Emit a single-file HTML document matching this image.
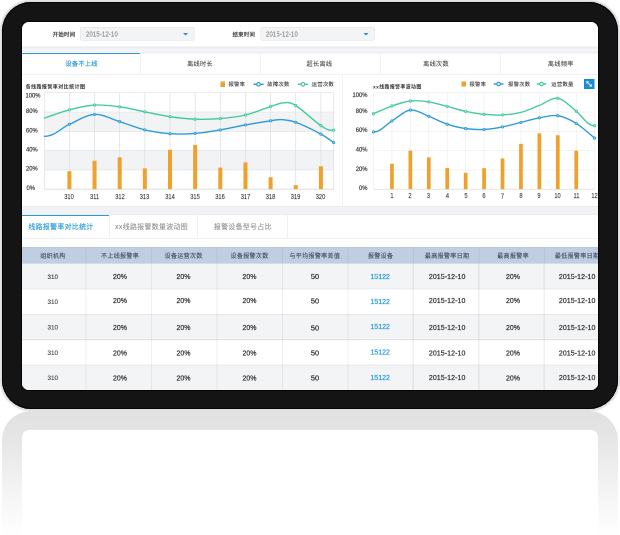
<!DOCTYPE html>
<html lang="zh-CN">
<head>
<meta charset="utf-8">
<title>线路报警率统计</title>
<style>
html,body{margin:0;padding:0;background:#fff;}
body{width:620px;height:535px;position:relative;overflow:hidden;font-family:"Liberation Sans","Noto Sans CJK SC",sans-serif;}
.device{position:absolute;left:1.6px;top:1.5px;width:616.4px;height:407.5px;border-radius:29px;background:#141414;box-shadow:inset 0 0 0 1px #050505, 0 0 0 1px #dcdee2, 0 0 1.5px 1.5px rgba(150,155,165,.35);}
.viewport{position:absolute;left:22px;top:22px;width:576px;height:368px;border-radius:7px;overflow:hidden;background:#fff;box-shadow:0 0 0 1px #050505;}
.screen{position:absolute;left:0;top:-1px;width:1152px;height:738px;transform:scale(.5);transform-origin:0 0;will-change:transform;}
.b{position:absolute;display:block;}
.t{position:absolute;display:block;white-space:nowrap;line-height:1;}
.reflect{position:absolute;left:1.6px;top:410.5px;width:616.4px;height:130px;border-radius:29px 29px 0 0;background:linear-gradient(to bottom,#e1e1e1 0,#e5e5e5 25px,#efefef 62px,#f8f8f8 95px,#fefefe 120px);}
.reflect-in{position:absolute;left:22px;top:430px;width:576px;height:110px;border-radius:7px 7px 0 0;background:#fff;}
</style>
</head>
<body>
<div class="device"></div>
<div class="viewport"><div class="screen">
<div class="b" style="left:0.0px;top:0.0px;width:1152.0px;height:51.2px;background:#fff;"></div>
<label class="t" style="left:106.92px;top:26.82px;font-size:10.83px;color:#2e2e2e;transform:translate(-100%,-50%);-webkit-text-stroke:0.3px currentColor;letter-spacing:0.57px;">开始时间</label>
<label class="t" style="left:466.52px;top:26.78px;font-size:10.83px;color:#2e2e2e;transform:translate(-100%,-50%);-webkit-text-stroke:0.3px currentColor;letter-spacing:0.57px;">结束时间</label>
<div class="b" style="left:116.4px;top:12.0px;width:228.4px;height:27.0px;background:#f3f4f6;border:1.2px solid #dcdee2;border-radius:4px;box-sizing:border-box;"></div>
<span class="t" style="left:127.54px;top:26.0px;font-size:14.0px;color:#888;transform:translate(0,-50%) scaleX(0.84);-webkit-text-stroke:0.3px currentColor;transform-origin:0 50%;letter-spacing:0.45px;">2015-12-10</span>
<i class="b" style="left:322.0px;top:23.8px;width:0;height:0;border-left:5.2px solid transparent;border-right:5.2px solid transparent;border-top:5.4px solid #1e8fd6;"></i>
<div class="b" style="left:476.6px;top:12.0px;width:229.2px;height:27.0px;background:#f3f4f6;border:1.2px solid #dcdee2;border-radius:4px;box-sizing:border-box;"></div>
<span class="t" style="left:487.94px;top:26.0px;font-size:14.0px;color:#888;transform:translate(0,-50%) scaleX(0.84);-webkit-text-stroke:0.3px currentColor;transform-origin:0 50%;letter-spacing:0.45px;">2015-12-10</span>
<i class="b" style="left:683.0px;top:23.8px;width:0;height:0;border-left:5.2px solid transparent;border-right:5.2px solid transparent;border-top:5.4px solid #1e8fd6;"></i>
<div class="b" style="left:0.0px;top:51.0px;width:1152.0px;height:13.0px;background:#f1f2f5;border-top:2px solid #e7e8ea;box-sizing:border-box;"></div>
<div class="b" style="left:0.0px;top:57.4px;width:1152.0px;height:1.6px;background:rgba(255,255,255,.55);"></div>
<div class="b" style="left:0.0px;top:63.8px;width:1152.0px;height:43.4px;background:#fff;border-top:1px solid #e6e6e8;border-bottom:1.6px solid #e3e3e4;box-sizing:border-box;"></div>
<div class="b" style="left:0.0px;top:61.8px;width:236.6px;height:4.3px;background:#2b9ad6;border-top:2.1px solid #fff;box-sizing:border-box;"></div>
<div class="b" style="left:235.9px;top:64.4px;width:1.4px;height:42.4px;background:#e3e3e4;"></div>
<div class="b" style="left:475.9px;top:64.4px;width:1.4px;height:42.4px;background:#e3e3e4;"></div>
<div class="b" style="left:715.9px;top:64.4px;width:1.4px;height:42.4px;background:#e3e3e4;"></div>
<div class="b" style="left:955.9px;top:64.4px;width:1.4px;height:42.4px;background:#e3e3e4;"></div>
<span class="t" style="left:119.22px;top:86.42px;font-size:12.25px;color:#2b9ad6;transform:translate(-50%,-50%);-webkit-text-stroke:0.35px currentColor;letter-spacing:0.65px;">设备不上线</span>
<span class="t" style="left:355.94px;top:86.48px;font-size:12.25px;color:#3a3a3a;transform:translate(-50%,-50%);-webkit-text-stroke:0.12px currentColor;letter-spacing:0.65px;">离线时长</span>
<span class="t" style="left:594.9px;top:86.42px;font-size:12.25px;color:#3a3a3a;transform:translate(-50%,-50%);-webkit-text-stroke:0.12px currentColor;letter-spacing:0.65px;">超长离线</span>
<span class="t" style="left:828.14px;top:86.46px;font-size:12.25px;color:#3a3a3a;transform:translate(-50%,-50%);-webkit-text-stroke:0.12px currentColor;letter-spacing:0.65px;">离线次数</span>
<span class="t" style="left:1077.66px;top:86.46px;font-size:12.25px;color:#3a3a3a;transform:translate(-50%,-50%);-webkit-text-stroke:0.12px currentColor;letter-spacing:0.65px;">离线频率</span>
<div class="b" style="left:0.0px;top:107.2px;width:1152.0px;height:262.6px;background:#fff;"></div>
<div class="b" style="left:640.9px;top:107.2px;width:1.4px;height:262.6px;background:#e6e6e7;"></div>
<span class="t" style="left:7.16px;top:132.3px;font-size:10.03px;color:#2e2e2e;transform:translate(0,-50%);letter-spacing:0.87px;font-weight:700;">各线路报警率对比统计图</span>
<span class="t" style="left:701.9px;top:131.56px;font-size:9.75px;color:#2e2e2e;transform:translate(0,-50%);letter-spacing:0.85px;font-weight:700;">xx线路报警率波动图</span>
<div class="b" style="left:396.8px;top:121.2px;width:9.6px;height:10.8px;background:#f0a02c;"></div>
<span class="t" style="left:412.92px;top:126.46px;font-size:10.64px;color:#333;transform:translate(0,-50%);-webkit-text-stroke:0.2px currentColor;letter-spacing:0.56px;">报警率</span>
<span class="t" style="left:490.54px;top:125.96px;font-size:10.64px;color:#333;transform:translate(0,-50%);-webkit-text-stroke:0.2px currentColor;letter-spacing:0.56px;">故障次数</span>
<span class="t" style="left:579.54px;top:125.98px;font-size:10.64px;color:#333;transform:translate(0,-50%);-webkit-text-stroke:0.2px currentColor;letter-spacing:0.56px;">运营次数</span>
<div class="b" style="left:878.6px;top:120.6px;width:9.6px;height:10.8px;background:#f0a02c;"></div>
<span class="t" style="left:894.92px;top:126.02px;font-size:10.64px;color:#333;transform:translate(0,-50%);-webkit-text-stroke:0.2px currentColor;letter-spacing:0.56px;">报警率</span>
<span class="t" style="left:972.04px;top:125.96px;font-size:10.64px;color:#333;transform:translate(0,-50%);-webkit-text-stroke:0.2px currentColor;letter-spacing:0.56px;">报警次数</span>
<span class="t" style="left:1058.54px;top:125.52px;font-size:10.64px;color:#333;transform:translate(0,-50%);-webkit-text-stroke:0.2px currentColor;letter-spacing:0.56px;">运营数量</span>
<div class="b" style="left:1124.4px;top:116.1px;width:20.3px;height:19.7px;background:#1a8fd4;border:1px solid #1385c8;box-sizing:border-box;"><svg width="100%" height="100%" viewBox="0 0 10 10" style="position:absolute;left:0;top:0"><path d="M1.8 1.8 L5.0 2.2 L2.2 5.0 Z M8.2 8.2 L5.0 7.8 L7.8 5.0 Z" fill="#fff"/><path d="M3.2 3.2 L6.8 6.8" stroke="#fff" stroke-width="1.0"/></svg></div>
<svg class="b" style="left:0;top:0;width:1152.0px;height:738.0px" viewBox="22.0 21.0 576.0 369.0"><rect x="44.5" y="112.00" width="289.10" height="19.30" fill="#f2f3f5"/><rect x="44.5" y="150.60" width="289.10" height="19.30" fill="#f2f3f5"/><line x1="44.5" y1="92.70" x2="333.6" y2="92.70" stroke="#dedfe1" stroke-width="0.6"/><line x1="44.5" y1="112.00" x2="333.6" y2="112.00" stroke="#dedfe1" stroke-width="0.6"/><line x1="44.5" y1="131.30" x2="333.6" y2="131.30" stroke="#dedfe1" stroke-width="0.6"/><line x1="44.5" y1="150.60" x2="333.6" y2="150.60" stroke="#dedfe1" stroke-width="0.6"/><line x1="44.5" y1="169.90" x2="333.6" y2="169.90" stroke="#dedfe1" stroke-width="0.6"/><line x1="44.5" y1="189.20" x2="333.6" y2="189.20" stroke="#dedfe1" stroke-width="0.6"/><line x1="44.50" y1="92.7" x2="44.50" y2="189.2" stroke="#d9dadc" stroke-width="0.6"/><line x1="69.40" y1="92.7" x2="69.40" y2="189.2" stroke="#d9dadc" stroke-width="0.6"/><line x1="94.55" y1="92.7" x2="94.55" y2="189.2" stroke="#d9dadc" stroke-width="0.6"/><line x1="119.70" y1="92.7" x2="119.70" y2="189.2" stroke="#d9dadc" stroke-width="0.6"/><line x1="144.85" y1="92.7" x2="144.85" y2="189.2" stroke="#d9dadc" stroke-width="0.6"/><line x1="170.00" y1="92.7" x2="170.00" y2="189.2" stroke="#d9dadc" stroke-width="0.6"/><line x1="195.15" y1="92.7" x2="195.15" y2="189.2" stroke="#d9dadc" stroke-width="0.6"/><line x1="220.30" y1="92.7" x2="220.30" y2="189.2" stroke="#d9dadc" stroke-width="0.6"/><line x1="245.45" y1="92.7" x2="245.45" y2="189.2" stroke="#d9dadc" stroke-width="0.6"/><line x1="270.60" y1="92.7" x2="270.60" y2="189.2" stroke="#d9dadc" stroke-width="0.6"/><line x1="295.75" y1="92.7" x2="295.75" y2="189.2" stroke="#d9dadc" stroke-width="0.6"/><line x1="320.90" y1="92.7" x2="320.90" y2="189.2" stroke="#d9dadc" stroke-width="0.6"/><line x1="333.60" y1="92.7" x2="333.60" y2="189.2" stroke="#d9dadc" stroke-width="0.6"/><line x1="44.5" y1="189.2" x2="333.6" y2="189.2" stroke="#cfcfd1" stroke-width="0.7"/><rect x="67.40" y="171.15" width="4.0" height="18.05" fill="#f0a02c"/><rect x="92.55" y="160.73" width="4.0" height="28.47" fill="#f0a02c"/><rect x="117.70" y="157.35" width="4.0" height="31.84" fill="#f0a02c"/><rect x="142.85" y="168.36" width="4.0" height="20.84" fill="#f0a02c"/><rect x="168.00" y="149.83" width="4.0" height="39.37" fill="#f0a02c"/><rect x="193.15" y="145.00" width="4.0" height="44.20" fill="#f0a02c"/><rect x="218.30" y="167.58" width="4.0" height="21.62" fill="#f0a02c"/><rect x="243.45" y="162.37" width="4.0" height="26.83" fill="#f0a02c"/><rect x="268.60" y="177.23" width="4.0" height="11.97" fill="#f0a02c"/><rect x="293.75" y="185.15" width="4.0" height="4.05" fill="#f0a02c"/><rect x="318.90" y="166.23" width="4.0" height="22.97" fill="#f0a02c"/><path d="M44.50 118.10 C48.65 116.72 61.07 111.97 69.40 109.80 C77.73 107.63 86.13 105.60 94.50 105.10 C102.87 104.60 111.22 105.68 119.60 106.80 C127.98 107.92 136.40 110.15 144.80 111.80 C153.20 113.45 161.62 115.47 170.00 116.70 C178.38 117.93 186.72 118.88 195.10 119.20 C203.48 119.52 211.90 119.30 220.30 118.60 C228.70 117.90 237.12 117.02 245.50 115.00 C253.88 112.98 264.25 108.53 270.60 106.50 C276.95 104.47 279.42 102.97 283.60 102.80 C287.78 102.63 289.48 101.70 295.70 105.50 C301.92 109.30 314.58 121.48 320.90 125.60 C327.22 129.72 327.88 130.20 333.60 130.20" fill="none" stroke="#3fcb9b" stroke-width="1.35" stroke-linecap="round"/><circle cx="69.4" cy="109.8" r="1.15" fill="#fff" fill-opacity="0.55" stroke="#3fcb9b" stroke-width="0.85"/><circle cx="94.5" cy="105.1" r="1.15" fill="#fff" fill-opacity="0.55" stroke="#3fcb9b" stroke-width="0.85"/><circle cx="119.6" cy="106.8" r="1.15" fill="#fff" fill-opacity="0.55" stroke="#3fcb9b" stroke-width="0.85"/><circle cx="144.8" cy="111.8" r="1.15" fill="#fff" fill-opacity="0.55" stroke="#3fcb9b" stroke-width="0.85"/><circle cx="170" cy="116.7" r="1.15" fill="#fff" fill-opacity="0.55" stroke="#3fcb9b" stroke-width="0.85"/><circle cx="195.1" cy="119.2" r="1.15" fill="#fff" fill-opacity="0.55" stroke="#3fcb9b" stroke-width="0.85"/><circle cx="220.3" cy="118.6" r="1.15" fill="#fff" fill-opacity="0.55" stroke="#3fcb9b" stroke-width="0.85"/><circle cx="245.5" cy="115.0" r="1.15" fill="#fff" fill-opacity="0.55" stroke="#3fcb9b" stroke-width="0.85"/><circle cx="270.6" cy="106.5" r="1.15" fill="#fff" fill-opacity="0.55" stroke="#3fcb9b" stroke-width="0.85"/><circle cx="295.7" cy="105.5" r="1.15" fill="#fff" fill-opacity="0.55" stroke="#3fcb9b" stroke-width="0.85"/><circle cx="320.9" cy="125.6" r="1.15" fill="#fff" fill-opacity="0.55" stroke="#3fcb9b" stroke-width="0.85"/><circle cx="333.6" cy="130.2" r="1.15" fill="#fff" fill-opacity="0.55" stroke="#3fcb9b" stroke-width="0.85"/><path d="M44.50 136.30 C54.96 136.30 61.07 127.95 69.40 124.30 C77.73 120.65 86.13 114.85 94.50 114.40 C102.87 113.95 111.22 119.02 119.60 121.60 C127.98 124.18 136.40 127.88 144.80 129.90 C153.20 131.92 161.62 133.12 170.00 133.70 C178.38 134.28 186.72 134.03 195.10 133.40 C203.48 132.77 211.90 131.32 220.30 129.90 C228.70 128.48 237.12 126.42 245.50 124.90 C253.88 123.38 264.60 121.68 270.60 120.80 C276.60 119.92 277.32 119.35 281.50 119.60 C285.68 119.85 289.13 119.88 295.70 122.30 C302.27 124.72 314.58 130.73 320.90 134.10 C327.22 137.47 331.48 141.10 333.60 142.50" fill="none" stroke="#2b9ad6" stroke-width="1.35" stroke-linecap="round"/><circle cx="69.4" cy="124.3" r="1.15" fill="#fff" fill-opacity="0.55" stroke="#2b9ad6" stroke-width="0.85"/><circle cx="94.5" cy="114.4" r="1.15" fill="#fff" fill-opacity="0.55" stroke="#2b9ad6" stroke-width="0.85"/><circle cx="119.6" cy="121.6" r="1.15" fill="#fff" fill-opacity="0.55" stroke="#2b9ad6" stroke-width="0.85"/><circle cx="144.8" cy="129.9" r="1.15" fill="#fff" fill-opacity="0.55" stroke="#2b9ad6" stroke-width="0.85"/><circle cx="170" cy="133.7" r="1.15" fill="#fff" fill-opacity="0.55" stroke="#2b9ad6" stroke-width="0.85"/><circle cx="195.1" cy="133.4" r="1.15" fill="#fff" fill-opacity="0.55" stroke="#2b9ad6" stroke-width="0.85"/><circle cx="220.3" cy="129.9" r="1.15" fill="#fff" fill-opacity="0.55" stroke="#2b9ad6" stroke-width="0.85"/><circle cx="245.5" cy="124.9" r="1.15" fill="#fff" fill-opacity="0.55" stroke="#2b9ad6" stroke-width="0.85"/><circle cx="270.6" cy="120.8" r="1.15" fill="#fff" fill-opacity="0.55" stroke="#2b9ad6" stroke-width="0.85"/><circle cx="295.7" cy="122.3" r="1.15" fill="#fff" fill-opacity="0.55" stroke="#2b9ad6" stroke-width="0.85"/><circle cx="320.9" cy="134.1" r="1.15" fill="#fff" fill-opacity="0.55" stroke="#2b9ad6" stroke-width="0.85"/><circle cx="333.6" cy="142.5" r="1.15" fill="#fff" fill-opacity="0.55" stroke="#2b9ad6" stroke-width="0.85"/><line x1="373.5" y1="92.80" x2="594.7" y2="92.80" stroke="#ececee" stroke-width="0.6"/><line x1="373.5" y1="112.08" x2="594.7" y2="112.08" stroke="#ececee" stroke-width="0.6"/><line x1="373.5" y1="131.36" x2="594.7" y2="131.36" stroke="#ececee" stroke-width="0.6"/><line x1="373.5" y1="150.64" x2="594.7" y2="150.64" stroke="#ececee" stroke-width="0.6"/><line x1="373.5" y1="169.92" x2="594.7" y2="169.92" stroke="#ececee" stroke-width="0.6"/><line x1="373.50" y1="92.8" x2="373.50" y2="189.2" stroke="#ececee" stroke-width="0.6"/><line x1="391.93" y1="92.8" x2="391.93" y2="189.2" stroke="#ececee" stroke-width="0.6"/><line x1="410.36" y1="92.8" x2="410.36" y2="189.2" stroke="#ececee" stroke-width="0.6"/><line x1="428.79" y1="92.8" x2="428.79" y2="189.2" stroke="#ececee" stroke-width="0.6"/><line x1="447.22" y1="92.8" x2="447.22" y2="189.2" stroke="#ececee" stroke-width="0.6"/><line x1="465.65" y1="92.8" x2="465.65" y2="189.2" stroke="#ececee" stroke-width="0.6"/><line x1="484.08" y1="92.8" x2="484.08" y2="189.2" stroke="#ececee" stroke-width="0.6"/><line x1="502.51" y1="92.8" x2="502.51" y2="189.2" stroke="#ececee" stroke-width="0.6"/><line x1="520.94" y1="92.8" x2="520.94" y2="189.2" stroke="#ececee" stroke-width="0.6"/><line x1="539.37" y1="92.8" x2="539.37" y2="189.2" stroke="#ececee" stroke-width="0.6"/><line x1="557.80" y1="92.8" x2="557.80" y2="189.2" stroke="#ececee" stroke-width="0.6"/><line x1="576.23" y1="92.8" x2="576.23" y2="189.2" stroke="#ececee" stroke-width="0.6"/><line x1="594.66" y1="92.8" x2="594.66" y2="189.2" stroke="#ececee" stroke-width="0.6"/><line x1="373.5" y1="189.2" x2="594.7" y2="189.2" stroke="#d4d4d6" stroke-width="0.7"/><rect x="390.08" y="163.75" width="3.7" height="25.45" fill="#f0a02c"/><rect x="408.51" y="150.64" width="3.7" height="38.56" fill="#f0a02c"/><rect x="426.94" y="157.39" width="3.7" height="31.81" fill="#f0a02c"/><rect x="445.37" y="167.99" width="3.7" height="21.21" fill="#f0a02c"/><rect x="463.80" y="172.81" width="3.7" height="16.39" fill="#f0a02c"/><rect x="482.23" y="168.18" width="3.7" height="21.02" fill="#f0a02c"/><rect x="500.66" y="158.45" width="3.7" height="30.75" fill="#f0a02c"/><rect x="519.09" y="143.89" width="3.7" height="45.31" fill="#f0a02c"/><rect x="537.52" y="133.29" width="3.7" height="55.91" fill="#f0a02c"/><rect x="555.95" y="135.22" width="3.7" height="53.98" fill="#f0a02c"/><rect x="574.38" y="150.64" width="3.7" height="38.56" fill="#f0a02c"/><path d="M373.50 113.70 C376.57 112.42 385.79 108.12 391.93 106.00 C398.07 103.88 404.22 101.68 410.36 101.00 C416.50 100.32 422.65 101.00 428.79 101.90 C434.93 102.80 441.08 104.82 447.22 106.40 C453.36 107.98 459.51 110.08 465.65 111.40 C471.79 112.72 477.94 113.72 484.08 114.30 C490.22 114.88 496.37 115.22 502.51 114.90 C508.65 114.58 514.80 113.98 520.94 112.40 C527.08 110.82 533.23 107.75 539.37 105.40 C545.51 103.05 551.66 97.33 557.80 98.30 C563.94 99.27 570.09 106.63 576.23 111.20 C582.37 115.77 586.37 125.70 594.66 125.70" fill="none" stroke="#3fcb9b" stroke-width="1.35" stroke-linecap="round"/><circle cx="373.5" cy="113.7" r="1.15" fill="#fff" fill-opacity="0.55" stroke="#3fcb9b" stroke-width="0.85"/><circle cx="391.93" cy="106.0" r="1.15" fill="#fff" fill-opacity="0.55" stroke="#3fcb9b" stroke-width="0.85"/><circle cx="410.36" cy="101.0" r="1.15" fill="#fff" fill-opacity="0.55" stroke="#3fcb9b" stroke-width="0.85"/><circle cx="428.79" cy="101.9" r="1.15" fill="#fff" fill-opacity="0.55" stroke="#3fcb9b" stroke-width="0.85"/><circle cx="447.22" cy="106.4" r="1.15" fill="#fff" fill-opacity="0.55" stroke="#3fcb9b" stroke-width="0.85"/><circle cx="465.65" cy="111.4" r="1.15" fill="#fff" fill-opacity="0.55" stroke="#3fcb9b" stroke-width="0.85"/><circle cx="484.08" cy="114.3" r="1.15" fill="#fff" fill-opacity="0.55" stroke="#3fcb9b" stroke-width="0.85"/><circle cx="502.51" cy="114.9" r="1.15" fill="#fff" fill-opacity="0.55" stroke="#3fcb9b" stroke-width="0.85"/><circle cx="557.8" cy="98.3" r="1.15" fill="#fff" fill-opacity="0.55" stroke="#3fcb9b" stroke-width="0.85"/><circle cx="576.23" cy="111.2" r="1.15" fill="#fff" fill-opacity="0.55" stroke="#3fcb9b" stroke-width="0.85"/><circle cx="594.66" cy="125.7" r="1.15" fill="#fff" fill-opacity="0.55" stroke="#3fcb9b" stroke-width="0.85"/><path d="M373.50 131.90 C381.24 131.90 385.79 124.53 391.93 120.90 C398.07 117.27 404.22 110.87 410.36 110.10 C416.50 109.33 422.65 113.95 428.79 116.30 C434.93 118.65 441.08 122.15 447.22 124.20 C453.36 126.25 459.51 127.73 465.65 128.60 C471.79 129.47 477.94 129.68 484.08 129.40 C490.22 129.12 496.37 128.07 502.51 126.90 C508.65 125.73 514.80 123.92 520.94 122.40 C527.08 120.88 533.23 118.92 539.37 117.80 C545.51 116.68 551.66 114.77 557.80 115.70 C563.94 116.63 570.09 119.67 576.23 123.40 C582.37 127.13 591.59 135.65 594.66 138.10" fill="none" stroke="#2b9ad6" stroke-width="1.35" stroke-linecap="round"/><circle cx="373.5" cy="131.9" r="1.15" fill="#fff" fill-opacity="0.55" stroke="#2b9ad6" stroke-width="0.85"/><circle cx="391.93" cy="120.9" r="1.15" fill="#fff" fill-opacity="0.55" stroke="#2b9ad6" stroke-width="0.85"/><circle cx="410.36" cy="110.1" r="1.15" fill="#fff" fill-opacity="0.55" stroke="#2b9ad6" stroke-width="0.85"/><circle cx="428.79" cy="116.3" r="1.15" fill="#fff" fill-opacity="0.55" stroke="#2b9ad6" stroke-width="0.85"/><circle cx="447.22" cy="124.2" r="1.15" fill="#fff" fill-opacity="0.55" stroke="#2b9ad6" stroke-width="0.85"/><circle cx="465.65" cy="128.6" r="1.15" fill="#fff" fill-opacity="0.55" stroke="#2b9ad6" stroke-width="0.85"/><circle cx="484.08" cy="129.4" r="1.15" fill="#fff" fill-opacity="0.55" stroke="#2b9ad6" stroke-width="0.85"/><circle cx="502.51" cy="126.9" r="1.15" fill="#fff" fill-opacity="0.55" stroke="#2b9ad6" stroke-width="0.85"/><circle cx="520.94" cy="122.4" r="1.15" fill="#fff" fill-opacity="0.55" stroke="#2b9ad6" stroke-width="0.85"/><circle cx="539.37" cy="117.8" r="1.15" fill="#fff" fill-opacity="0.55" stroke="#2b9ad6" stroke-width="0.85"/><circle cx="557.8" cy="115.7" r="1.15" fill="#fff" fill-opacity="0.55" stroke="#2b9ad6" stroke-width="0.85"/><circle cx="576.23" cy="123.4" r="1.15" fill="#fff" fill-opacity="0.55" stroke="#2b9ad6" stroke-width="0.85"/><circle cx="594.66" cy="138.1" r="1.15" fill="#fff" fill-opacity="0.55" stroke="#2b9ad6" stroke-width="0.85"/><line x1="253.5" y1="84.3" x2="263.6" y2="84.3" stroke="#2b9ad6" stroke-width="1.45"/><circle cx="258.55" cy="84.3" r="1.75" fill="#fff" stroke="#2b9ad6" stroke-width="1.15"/><line x1="297.9" y1="84.3" x2="308.0" y2="84.3" stroke="#3fcb9b" stroke-width="1.45"/><circle cx="302.95" cy="84.3" r="1.75" fill="#fff" stroke="#3fcb9b" stroke-width="1.15"/><line x1="493.7" y1="84.0" x2="503.5" y2="84.0" stroke="#2b9ad6" stroke-width="1.45"/><circle cx="498.60" cy="84.0" r="1.75" fill="#fff" stroke="#2b9ad6" stroke-width="1.15"/><line x1="536.8" y1="84.0" x2="546.3" y2="84.0" stroke="#3fcb9b" stroke-width="1.45"/><circle cx="541.55" cy="84.0" r="1.75" fill="#fff" stroke="#3fcb9b" stroke-width="1.15"/></svg>
<span class="t" style="left:7.18px;top:148.84px;font-size:12.2px;color:#333;transform:translate(0,-50%) scaleX(0.96);-webkit-text-stroke:0.35px currentColor;transform-origin:0 50%;">100%</span>
<span class="t" style="left:8.14px;top:180.18px;font-size:12.2px;color:#333;transform:translate(0,-50%) scaleX(0.96);-webkit-text-stroke:0.35px currentColor;transform-origin:0 50%;">80%</span>
<span class="t" style="left:8.12px;top:218.98px;font-size:12.2px;color:#333;transform:translate(0,-50%) scaleX(0.96);-webkit-text-stroke:0.35px currentColor;transform-origin:0 50%;">60%</span>
<span class="t" style="left:7.9px;top:257.04px;font-size:12.2px;color:#333;transform:translate(0,-50%) scaleX(0.96);-webkit-text-stroke:0.35px currentColor;transform-origin:0 50%;">40%</span>
<span class="t" style="left:7.94px;top:295.18px;font-size:12.2px;color:#333;transform:translate(0,-50%) scaleX(0.96);-webkit-text-stroke:0.35px currentColor;transform-origin:0 50%;">20%</span>
<span class="t" style="left:8.52px;top:333.82px;font-size:12.2px;color:#333;transform:translate(0,-50%) scaleX(0.96);-webkit-text-stroke:0.35px currentColor;transform-origin:0 50%;">0%</span>
<span class="t" style="left:690.7px;top:148.44px;font-size:12.2px;color:#333;transform:translate(-100%,-50%) scaleX(0.96);-webkit-text-stroke:0.35px currentColor;transform-origin:100% 50%;">100%</span>
<span class="t" style="left:690.7px;top:180.24px;font-size:12.2px;color:#333;transform:translate(-100%,-50%) scaleX(0.96);-webkit-text-stroke:0.35px currentColor;transform-origin:100% 50%;">80%</span>
<span class="t" style="left:690.66px;top:217.78px;font-size:12.2px;color:#333;transform:translate(-100%,-50%) scaleX(0.96);-webkit-text-stroke:0.35px currentColor;transform-origin:100% 50%;">60%</span>
<span class="t" style="left:690.6px;top:257.44px;font-size:12.2px;color:#333;transform:translate(-100%,-50%) scaleX(0.96);-webkit-text-stroke:0.35px currentColor;transform-origin:100% 50%;">40%</span>
<span class="t" style="left:690.64px;top:295.84px;font-size:12.2px;color:#333;transform:translate(-100%,-50%) scaleX(0.96);-webkit-text-stroke:0.35px currentColor;transform-origin:100% 50%;">20%</span>
<span class="t" style="left:690.6px;top:334.28px;font-size:12.2px;color:#333;transform:translate(-100%,-50%) scaleX(0.96);-webkit-text-stroke:0.35px currentColor;transform-origin:100% 50%;">0%</span>
<span class="t" style="left:94.24px;top:350.82px;font-size:14.6px;color:#3a3a3a;transform:translate(-50%,-50%) scaleX(0.78);-webkit-text-stroke:0.25px currentColor;transform-origin:50% 50%;">310</span>
<span class="t" style="left:145.48px;top:350.7px;font-size:14.6px;color:#3a3a3a;transform:translate(-50%,-50%) scaleX(0.78);-webkit-text-stroke:0.25px currentColor;transform-origin:50% 50%;">311</span>
<span class="t" style="left:195.58px;top:350.8px;font-size:14.6px;color:#3a3a3a;transform:translate(-50%,-50%) scaleX(0.78);-webkit-text-stroke:0.25px currentColor;transform-origin:50% 50%;">312</span>
<span class="t" style="left:245.06px;top:350.86px;font-size:14.6px;color:#3a3a3a;transform:translate(-50%,-50%) scaleX(0.78);-webkit-text-stroke:0.25px currentColor;transform-origin:50% 50%;">313</span>
<span class="t" style="left:295.9px;top:350.76px;font-size:14.6px;color:#3a3a3a;transform:translate(-50%,-50%) scaleX(0.78);-webkit-text-stroke:0.25px currentColor;transform-origin:50% 50%;">314</span>
<span class="t" style="left:346.36px;top:350.94px;font-size:14.6px;color:#3a3a3a;transform:translate(-50%,-50%) scaleX(0.78);-webkit-text-stroke:0.25px currentColor;transform-origin:50% 50%;">315</span>
<span class="t" style="left:396.02px;top:350.8px;font-size:14.6px;color:#3a3a3a;transform:translate(-50%,-50%) scaleX(0.78);-webkit-text-stroke:0.25px currentColor;transform-origin:50% 50%;">316</span>
<span class="t" style="left:446.92px;top:351.16px;font-size:14.6px;color:#3a3a3a;transform:translate(-50%,-50%) scaleX(0.78);-webkit-text-stroke:0.25px currentColor;transform-origin:50% 50%;">317</span>
<span class="t" style="left:497.22px;top:350.82px;font-size:14.6px;color:#3a3a3a;transform:translate(-50%,-50%) scaleX(0.78);-webkit-text-stroke:0.25px currentColor;transform-origin:50% 50%;">318</span>
<span class="t" style="left:546.68px;top:350.82px;font-size:14.6px;color:#3a3a3a;transform:translate(-50%,-50%) scaleX(0.78);-webkit-text-stroke:0.25px currentColor;transform-origin:50% 50%;">319</span>
<span class="t" style="left:597.2px;top:350.94px;font-size:14.6px;color:#3a3a3a;transform:translate(-50%,-50%) scaleX(0.78);-webkit-text-stroke:0.25px currentColor;transform-origin:50% 50%;">320</span>
<span class="t" style="left:739.74px;top:348.5px;font-size:14.6px;color:#3a3a3a;transform:translate(-50%,-50%) scaleX(0.78);-webkit-text-stroke:0.25px currentColor;transform-origin:50% 50%;">1</span>
<span class="t" style="left:776.44px;top:348.72px;font-size:14.6px;color:#3a3a3a;transform:translate(-50%,-50%) scaleX(0.78);-webkit-text-stroke:0.25px currentColor;transform-origin:50% 50%;">2</span>
<span class="t" style="left:813.12px;top:349.0px;font-size:14.6px;color:#3a3a3a;transform:translate(-50%,-50%) scaleX(0.78);-webkit-text-stroke:0.25px currentColor;transform-origin:50% 50%;">3</span>
<span class="t" style="left:851.02px;top:349.0px;font-size:14.6px;color:#3a3a3a;transform:translate(-50%,-50%) scaleX(0.78);-webkit-text-stroke:0.25px currentColor;transform-origin:50% 50%;">4</span>
<span class="t" style="left:887.6px;top:349.0px;font-size:14.6px;color:#3a3a3a;transform:translate(-50%,-50%) scaleX(0.78);-webkit-text-stroke:0.25px currentColor;transform-origin:50% 50%;">5</span>
<span class="t" style="left:924.44px;top:349.0px;font-size:14.6px;color:#3a3a3a;transform:translate(-50%,-50%) scaleX(0.78);-webkit-text-stroke:0.25px currentColor;transform-origin:50% 50%;">6</span>
<span class="t" style="left:960.9px;top:349.7px;font-size:14.6px;color:#3a3a3a;transform:translate(-50%,-50%) scaleX(0.78);-webkit-text-stroke:0.25px currentColor;transform-origin:50% 50%;">7</span>
<span class="t" style="left:997.86px;top:349.0px;font-size:14.6px;color:#3a3a3a;transform:translate(-50%,-50%) scaleX(0.78);-webkit-text-stroke:0.25px currentColor;transform-origin:50% 50%;">8</span>
<span class="t" style="left:1034.48px;top:349.0px;font-size:14.6px;color:#3a3a3a;transform:translate(-50%,-50%) scaleX(0.78);-webkit-text-stroke:0.25px currentColor;transform-origin:50% 50%;">9</span>
<span class="t" style="left:1070.58px;top:348.82px;font-size:14.6px;color:#3a3a3a;transform:translate(-50%,-50%) scaleX(0.78);-webkit-text-stroke:0.25px currentColor;transform-origin:50% 50%;">10</span>
<span class="t" style="left:1109.0px;top:348.5px;font-size:14.6px;color:#3a3a3a;transform:translate(-50%,-50%) scaleX(0.78);-webkit-text-stroke:0.25px currentColor;transform-origin:50% 50%;">11</span>
<span class="t" style="left:1145.42px;top:348.62px;font-size:14.6px;color:#3a3a3a;transform:translate(-50%,-50%) scaleX(0.78);-webkit-text-stroke:0.25px currentColor;transform-origin:50% 50%;">12</span>
<div class="b" style="left:0.0px;top:369.8px;width:1152.0px;height:17.4px;background:#f1f2f5;border-top:1.4px solid #e6e7e9;box-sizing:border-box;"></div>
<div class="b" style="left:0.0px;top:386.8px;width:1152.0px;height:48.0px;background:#fff;border-top:1.2px solid #e6e6e7;border-bottom:1.4px solid #e3e3e4;box-sizing:border-box;"></div>
<div class="b" style="left:0.0px;top:387.8px;width:174.2px;height:2.4px;background:#2b9ad6;"></div>
<div class="b" style="left:173.5px;top:388.0px;width:1.4px;height:46.4px;background:#e3e3e4;"></div>
<div class="b" style="left:350.9px;top:388.0px;width:1.4px;height:46.4px;background:#e3e3e4;"></div>
<div class="b" style="left:529.5px;top:388.0px;width:1.4px;height:46.4px;background:#e3e3e4;"></div>
<span class="t" style="left:12.66px;top:411.86px;font-size:13.77px;color:#2b9ad6;transform:translate(0,-50%);-webkit-text-stroke:0.3px currentColor;letter-spacing:0.73px;">线路报警率对比统计</span>
<span class="t" style="left:186.22px;top:411.78px;font-size:13.77px;color:#8e8e8e;transform:translate(0,-50%);-webkit-text-stroke:0.2px currentColor;letter-spacing:0.73px;">xx线路报警数量波动图</span>
<span class="t" style="left:383.8px;top:411.8px;font-size:13.77px;color:#8e8e8e;transform:translate(0,-50%);-webkit-text-stroke:0.2px currentColor;letter-spacing:0.73px;">报警设备型号占比</span>
<div class="b" style="left:0.0px;top:434.8px;width:1152.0px;height:303.2px;background:#fff;"></div>
<div class="b" style="left:0.0px;top:451.8px;width:1152.0px;height:33.6px;background:#c0cee1;border-top:1px solid #b4c3da;border-bottom:1.4px solid #b7c5db;box-sizing:border-box;"></div>
<div class="b" style="left:0.0px;top:484.8px;width:1152.0px;height:51.2px;background:#f3f4f6;"></div>
<div class="b" style="left:0.0px;top:536.0px;width:1152.0px;height:51.2px;background:#fff;"></div>
<div class="b" style="left:0.0px;top:587.2px;width:1152.0px;height:50.6px;background:#f3f4f6;"></div>
<div class="b" style="left:0.0px;top:637.8px;width:1152.0px;height:50.2px;background:#fff;"></div>
<div class="b" style="left:0.0px;top:688.0px;width:1152.0px;height:52.0px;background:#f3f4f6;"></div>
<div class="b" style="left:0.0px;top:534.5px;width:1152.0px;height:2.4px;background:rgba(30,35,50,0.07);"></div>
<div class="b" style="left:0.0px;top:585.7px;width:1152.0px;height:2.4px;background:rgba(30,35,50,0.07);"></div>
<div class="b" style="left:0.0px;top:636.3px;width:1152.0px;height:2.4px;background:rgba(30,35,50,0.07);"></div>
<div class="b" style="left:0.0px;top:686.5px;width:1152.0px;height:2.4px;background:rgba(30,35,50,0.07);"></div>
<div class="b" style="left:126.8px;top:451.8px;width:2.0px;height:33.6px;background:#b6c3d8;"></div>
<div class="b" style="left:126.6px;top:485.0px;width:2.4px;height:253.0px;background:rgba(40,50,70,0.075);"></div>
<div class="b" style="left:257.8px;top:451.8px;width:2.0px;height:33.6px;background:#b6c3d8;"></div>
<div class="b" style="left:257.6px;top:485.0px;width:2.4px;height:253.0px;background:rgba(40,50,70,0.075);"></div>
<div class="b" style="left:388.8px;top:451.8px;width:2.0px;height:33.6px;background:#b6c3d8;"></div>
<div class="b" style="left:388.6px;top:485.0px;width:2.4px;height:253.0px;background:rgba(40,50,70,0.075);"></div>
<div class="b" style="left:519.8px;top:451.8px;width:2.0px;height:33.6px;background:#b6c3d8;"></div>
<div class="b" style="left:519.6px;top:485.0px;width:2.4px;height:253.0px;background:rgba(40,50,70,0.075);"></div>
<div class="b" style="left:650.8px;top:451.8px;width:2.0px;height:33.6px;background:#b6c3d8;"></div>
<div class="b" style="left:650.6px;top:485.0px;width:2.4px;height:253.0px;background:rgba(40,50,70,0.075);"></div>
<div class="b" style="left:781.6px;top:451.8px;width:2.0px;height:33.6px;background:#b6c3d8;"></div>
<div class="b" style="left:781.4px;top:485.0px;width:2.4px;height:253.0px;background:rgba(40,50,70,0.075);"></div>
<div class="b" style="left:912.6px;top:451.8px;width:2.0px;height:33.6px;background:#b6c3d8;"></div>
<div class="b" style="left:912.4px;top:485.0px;width:2.4px;height:253.0px;background:rgba(40,50,70,0.075);"></div>
<div class="b" style="left:1043.6px;top:451.8px;width:2.0px;height:33.6px;background:#b6c3d8;"></div>
<div class="b" style="left:1043.4px;top:485.0px;width:2.4px;height:253.0px;background:rgba(40,50,70,0.075);"></div>
<span class="t" style="left:62.0px;top:470.12px;font-size:12.06px;color:#424e60;transform:translate(-50%,-50%);-webkit-text-stroke:0.25px currentColor;letter-spacing:0.64px;">组织机构</span>
<span class="t" style="left:196.1px;top:470.42px;font-size:12.06px;color:#424e60;transform:translate(-50%,-50%);-webkit-text-stroke:0.25px currentColor;letter-spacing:0.64px;">不上线报警率</span>
<span class="t" style="left:323.36px;top:470.2px;font-size:12.06px;color:#424e60;transform:translate(-50%,-50%);-webkit-text-stroke:0.25px currentColor;letter-spacing:0.64px;">设备运营次数</span>
<span class="t" style="left:455.12px;top:470.22px;font-size:12.06px;color:#424e60;transform:translate(-50%,-50%);-webkit-text-stroke:0.25px currentColor;letter-spacing:0.64px;">设备报警次数</span>
<span class="t" style="left:585.7px;top:470.46px;font-size:12.06px;color:#424e60;transform:translate(-50%,-50%);-webkit-text-stroke:0.25px currentColor;letter-spacing:0.64px;">与平均报警率差值</span>
<span class="t" style="left:717.3px;top:470.34px;font-size:12.06px;color:#424e60;transform:translate(-50%,-50%);-webkit-text-stroke:0.25px currentColor;letter-spacing:0.64px;">报警设备</span>
<span class="t" style="left:850.2px;top:470.38px;font-size:12.06px;color:#424e60;transform:translate(-50%,-50%);-webkit-text-stroke:0.25px currentColor;letter-spacing:0.64px;">最高报警率日期</span>
<span class="t" style="left:982.14px;top:470.46px;font-size:12.06px;color:#424e60;transform:translate(-50%,-50%);-webkit-text-stroke:0.25px currentColor;letter-spacing:0.64px;">最高报警率</span>
<span class="t" style="left:1110.18px;top:470.34px;font-size:12.06px;color:#424e60;transform:translate(-50%,-50%);-webkit-text-stroke:0.25px currentColor;letter-spacing:0.64px;">最低报警率日期</span>
<span class="t" style="left:61.4px;top:511.8px;font-size:12.6px;color:#3a3a3a;transform:translate(-50%,-50%);-webkit-text-stroke:0.2px currentColor;">310</span>
<span class="t" style="left:195.84px;top:510.2px;font-size:15.0px;color:#2f2f2f;transform:translate(-50%,-50%) scaleX(0.93);-webkit-text-stroke:0.45px currentColor;transform-origin:50% 50%;">20%</span>
<span class="t" style="left:323.32px;top:510.2px;font-size:15.0px;color:#2f2f2f;transform:translate(-50%,-50%) scaleX(0.93);-webkit-text-stroke:0.45px currentColor;transform-origin:50% 50%;">20%</span>
<span class="t" style="left:454.52px;top:510.2px;font-size:15.0px;color:#2f2f2f;transform:translate(-50%,-50%) scaleX(0.93);-webkit-text-stroke:0.45px currentColor;transform-origin:50% 50%;">20%</span>
<span class="t" style="left:586.0px;top:511.48px;font-size:14.8px;color:#2f2f2f;transform:translate(-50%,-50%);-webkit-text-stroke:0.45px currentColor;">50</span>
<span class="t" style="left:716.3px;top:511.04px;font-size:14.0px;color:#2a9cd8;transform:translate(-50%,-50%);-webkit-text-stroke:0.45px currentColor;">15122</span>
<span class="t" style="left:850.32px;top:510.92px;font-size:14.0px;color:#333;transform:translate(-50%,-50%);-webkit-text-stroke:0.45px currentColor;letter-spacing:0.15px;">2015-12-10</span>
<span class="t" style="left:981.84px;top:510.2px;font-size:15.0px;color:#2f2f2f;transform:translate(-50%,-50%) scaleX(0.93);-webkit-text-stroke:0.45px currentColor;transform-origin:50% 50%;">20%</span>
<span class="t" style="left:1110.32px;top:510.92px;font-size:14.0px;color:#333;transform:translate(-50%,-50%);-webkit-text-stroke:0.45px currentColor;letter-spacing:0.15px;">2015-12-10</span>
<span class="t" style="left:61.4px;top:561.8px;font-size:12.6px;color:#3a3a3a;transform:translate(-50%,-50%);-webkit-text-stroke:0.2px currentColor;">310</span>
<span class="t" style="left:195.84px;top:558.24px;font-size:15.0px;color:#2f2f2f;transform:translate(-50%,-50%) scaleX(0.93);-webkit-text-stroke:0.45px currentColor;transform-origin:50% 50%;">20%</span>
<span class="t" style="left:323.32px;top:558.24px;font-size:15.0px;color:#2f2f2f;transform:translate(-50%,-50%) scaleX(0.93);-webkit-text-stroke:0.45px currentColor;transform-origin:50% 50%;">20%</span>
<span class="t" style="left:454.52px;top:558.24px;font-size:15.0px;color:#2f2f2f;transform:translate(-50%,-50%) scaleX(0.93);-webkit-text-stroke:0.45px currentColor;transform-origin:50% 50%;">20%</span>
<span class="t" style="left:586.0px;top:559.54px;font-size:14.8px;color:#2f2f2f;transform:translate(-50%,-50%);-webkit-text-stroke:0.45px currentColor;">50</span>
<span class="t" style="left:716.3px;top:561.04px;font-size:14.0px;color:#2a9cd8;transform:translate(-50%,-50%);-webkit-text-stroke:0.45px currentColor;">15122</span>
<span class="t" style="left:850.32px;top:559.22px;font-size:14.0px;color:#333;transform:translate(-50%,-50%);-webkit-text-stroke:0.45px currentColor;letter-spacing:0.15px;">2015-12-10</span>
<span class="t" style="left:981.84px;top:558.24px;font-size:15.0px;color:#2f2f2f;transform:translate(-50%,-50%) scaleX(0.93);-webkit-text-stroke:0.45px currentColor;transform-origin:50% 50%;">20%</span>
<span class="t" style="left:1110.32px;top:559.22px;font-size:14.0px;color:#333;transform:translate(-50%,-50%);-webkit-text-stroke:0.45px currentColor;letter-spacing:0.15px;">2015-12-10</span>
<span class="t" style="left:61.4px;top:613.4px;font-size:12.6px;color:#3a3a3a;transform:translate(-50%,-50%);-webkit-text-stroke:0.2px currentColor;">310</span>
<span class="t" style="left:195.84px;top:612.24px;font-size:15.0px;color:#2f2f2f;transform:translate(-50%,-50%) scaleX(0.93);-webkit-text-stroke:0.45px currentColor;transform-origin:50% 50%;">20%</span>
<span class="t" style="left:323.32px;top:612.24px;font-size:15.0px;color:#2f2f2f;transform:translate(-50%,-50%) scaleX(0.93);-webkit-text-stroke:0.45px currentColor;transform-origin:50% 50%;">20%</span>
<span class="t" style="left:454.52px;top:612.24px;font-size:15.0px;color:#2f2f2f;transform:translate(-50%,-50%) scaleX(0.93);-webkit-text-stroke:0.45px currentColor;transform-origin:50% 50%;">20%</span>
<span class="t" style="left:586.0px;top:613.54px;font-size:14.8px;color:#2f2f2f;transform:translate(-50%,-50%);-webkit-text-stroke:0.45px currentColor;">50</span>
<span class="t" style="left:716.3px;top:611.44px;font-size:14.0px;color:#2a9cd8;transform:translate(-50%,-50%);-webkit-text-stroke:0.45px currentColor;">15122</span>
<span class="t" style="left:850.32px;top:613.22px;font-size:14.0px;color:#333;transform:translate(-50%,-50%);-webkit-text-stroke:0.45px currentColor;letter-spacing:0.15px;">2015-12-10</span>
<span class="t" style="left:981.84px;top:612.24px;font-size:15.0px;color:#2f2f2f;transform:translate(-50%,-50%) scaleX(0.93);-webkit-text-stroke:0.45px currentColor;transform-origin:50% 50%;">20%</span>
<span class="t" style="left:1110.32px;top:613.22px;font-size:14.0px;color:#333;transform:translate(-50%,-50%);-webkit-text-stroke:0.45px currentColor;letter-spacing:0.15px;">2015-12-10</span>
<span class="t" style="left:61.4px;top:663.8px;font-size:12.6px;color:#3a3a3a;transform:translate(-50%,-50%);-webkit-text-stroke:0.2px currentColor;">310</span>
<span class="t" style="left:195.84px;top:662.64px;font-size:15.0px;color:#2f2f2f;transform:translate(-50%,-50%) scaleX(0.93);-webkit-text-stroke:0.45px currentColor;transform-origin:50% 50%;">20%</span>
<span class="t" style="left:323.32px;top:662.64px;font-size:15.0px;color:#2f2f2f;transform:translate(-50%,-50%) scaleX(0.93);-webkit-text-stroke:0.45px currentColor;transform-origin:50% 50%;">20%</span>
<span class="t" style="left:454.52px;top:662.64px;font-size:15.0px;color:#2f2f2f;transform:translate(-50%,-50%) scaleX(0.93);-webkit-text-stroke:0.45px currentColor;transform-origin:50% 50%;">20%</span>
<span class="t" style="left:586.0px;top:663.94px;font-size:14.8px;color:#2f2f2f;transform:translate(-50%,-50%);-webkit-text-stroke:0.45px currentColor;">50</span>
<span class="t" style="left:716.3px;top:661.84px;font-size:14.0px;color:#2a9cd8;transform:translate(-50%,-50%);-webkit-text-stroke:0.45px currentColor;">15122</span>
<span class="t" style="left:850.32px;top:663.62px;font-size:14.0px;color:#333;transform:translate(-50%,-50%);-webkit-text-stroke:0.45px currentColor;letter-spacing:0.15px;">2015-12-10</span>
<span class="t" style="left:981.84px;top:662.64px;font-size:15.0px;color:#2f2f2f;transform:translate(-50%,-50%) scaleX(0.93);-webkit-text-stroke:0.45px currentColor;transform-origin:50% 50%;">20%</span>
<span class="t" style="left:1110.32px;top:663.62px;font-size:14.0px;color:#333;transform:translate(-50%,-50%);-webkit-text-stroke:0.45px currentColor;letter-spacing:0.15px;">2015-12-10</span>
<span class="t" style="left:61.4px;top:714.2px;font-size:12.6px;color:#3a3a3a;transform:translate(-50%,-50%);-webkit-text-stroke:0.2px currentColor;">310</span>
<span class="t" style="left:195.84px;top:712.6px;font-size:15.0px;color:#2f2f2f;transform:translate(-50%,-50%) scaleX(0.93);-webkit-text-stroke:0.45px currentColor;transform-origin:50% 50%;">20%</span>
<span class="t" style="left:323.32px;top:712.6px;font-size:15.0px;color:#2f2f2f;transform:translate(-50%,-50%) scaleX(0.93);-webkit-text-stroke:0.45px currentColor;transform-origin:50% 50%;">20%</span>
<span class="t" style="left:454.52px;top:712.6px;font-size:15.0px;color:#2f2f2f;transform:translate(-50%,-50%) scaleX(0.93);-webkit-text-stroke:0.45px currentColor;transform-origin:50% 50%;">20%</span>
<span class="t" style="left:586.0px;top:713.88px;font-size:14.8px;color:#2f2f2f;transform:translate(-50%,-50%);-webkit-text-stroke:0.45px currentColor;">50</span>
<span class="t" style="left:716.3px;top:712.64px;font-size:14.0px;color:#2a9cd8;transform:translate(-50%,-50%);-webkit-text-stroke:0.45px currentColor;">15122</span>
<span class="t" style="left:850.32px;top:713.32px;font-size:14.0px;color:#333;transform:translate(-50%,-50%);-webkit-text-stroke:0.45px currentColor;letter-spacing:0.15px;">2015-12-10</span>
<span class="t" style="left:981.84px;top:712.6px;font-size:15.0px;color:#2f2f2f;transform:translate(-50%,-50%) scaleX(0.93);-webkit-text-stroke:0.45px currentColor;transform-origin:50% 50%;">20%</span>
<span class="t" style="left:1110.32px;top:713.32px;font-size:14.0px;color:#333;transform:translate(-50%,-50%);-webkit-text-stroke:0.45px currentColor;letter-spacing:0.15px;">2015-12-10</span>
</div></div>
<div class="reflect"></div>
<div class="reflect-in"></div>
</body>
</html>
